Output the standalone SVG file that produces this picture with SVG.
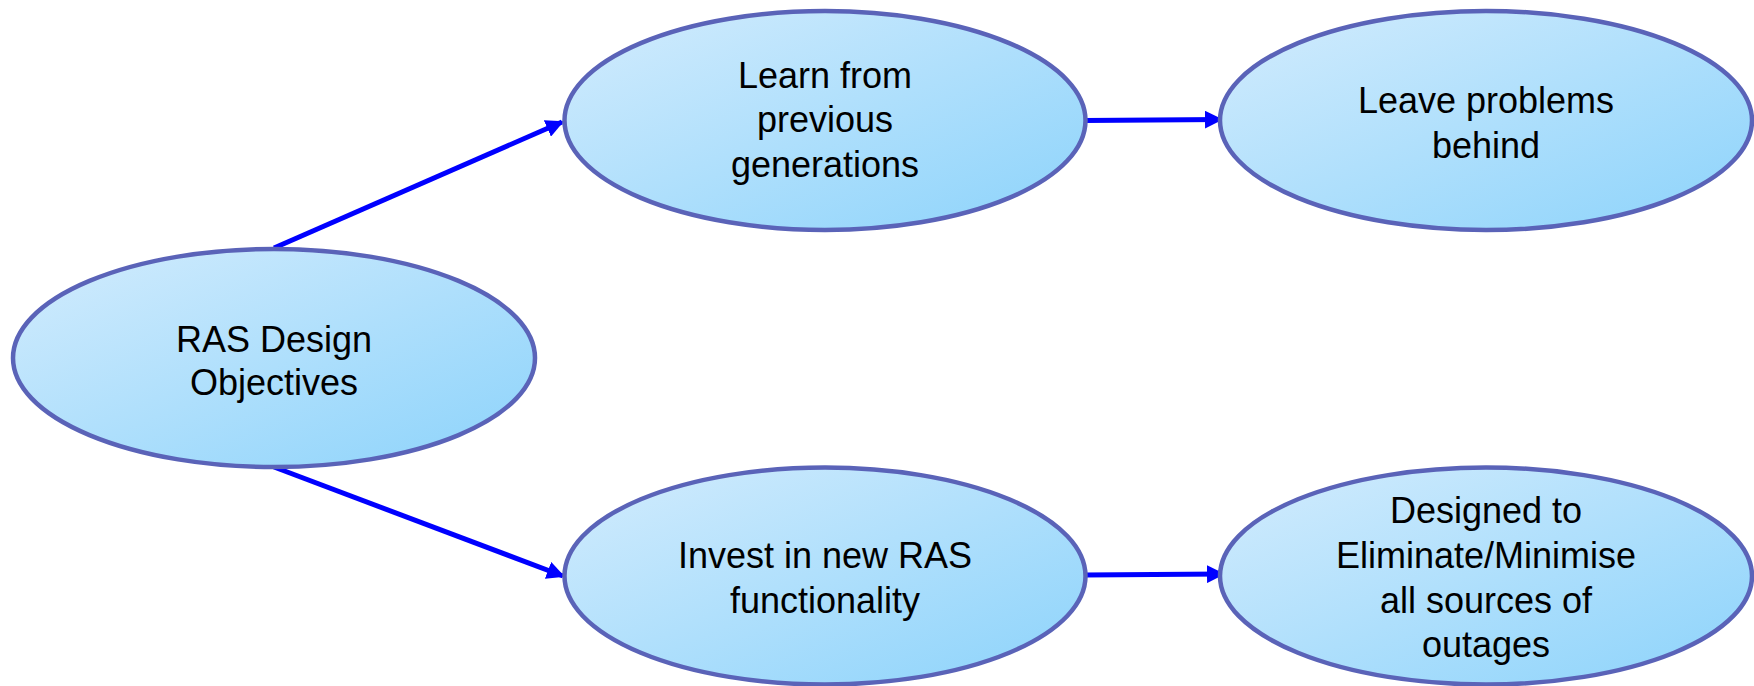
<svg xmlns="http://www.w3.org/2000/svg" width="1754" height="686" viewBox="0 0 1754 686">
<defs>
<linearGradient id="fill" x1="0" y1="0" x2="1" y2="1">
<stop offset="0" stop-color="#d3ecfd"/>
<stop offset="1" stop-color="#8cd3fb"/>
</linearGradient>
<marker id="ah" markerWidth="3.6" markerHeight="3.6" refX="3.2" refY="1.8" orient="auto" markerUnits="strokeWidth">
<path d="M0,0 L3.6,1.8 L0,3.6 z" fill="#0000ff"/>
</marker>
<style>
.node ellipse{fill:url(#fill);stroke:#5a63b8;stroke-width:4.5}
.node text{font-family:"Liberation Sans",Arial,sans-serif;font-size:36px;fill:#000;text-anchor:middle}
.conn line{stroke:#0000ff;stroke-width:5;marker-end:url(#ah)}
</style>
</defs>
<rect width="1754" height="686" fill="#fff"/>
<g class="conn" id="connectors">
<line x1="274" y1="248" x2="562" y2="122"/>
<line x1="1085" y1="120.5" x2="1221" y2="119.5"/>
<line x1="274" y1="467" x2="563" y2="576"/>
<line x1="1085" y1="575" x2="1223" y2="574"/>
</g>
<g class="node" id="n-ras">
<ellipse cx="274" cy="358" rx="261" ry="109"/>
<text x="274" y="352">RAS Design</text>
<text x="274" y="395">Objectives</text>
</g>
<g class="node" id="n-learn">
<ellipse cx="825" cy="120.5" rx="260.5" ry="109.5"/>
<text x="825" y="88">Learn from</text>
<text x="825" y="132">previous</text>
<text x="825" y="177">generations</text>
</g>
<g class="node" id="n-leave">
<ellipse cx="1486" cy="120.5" rx="266" ry="109.5"/>
<text x="1486" y="113">Leave problems</text>
<text x="1486" y="158">behind</text>
</g>
<g class="node" id="n-invest">
<ellipse cx="825" cy="576" rx="260.5" ry="108.5"/>
<text x="825" y="568">Invest in new RAS</text>
<text x="825" y="613">functionality</text>
</g>
<g class="node" id="n-designed">
<ellipse cx="1486" cy="576" rx="266" ry="108.5"/>
<text x="1486" y="523">Designed to</text>
<text x="1486" y="568">Eliminate/Minimise</text>
<text x="1486" y="613">all sources of</text>
<text x="1486" y="657">outages</text>
</g>
</svg>
